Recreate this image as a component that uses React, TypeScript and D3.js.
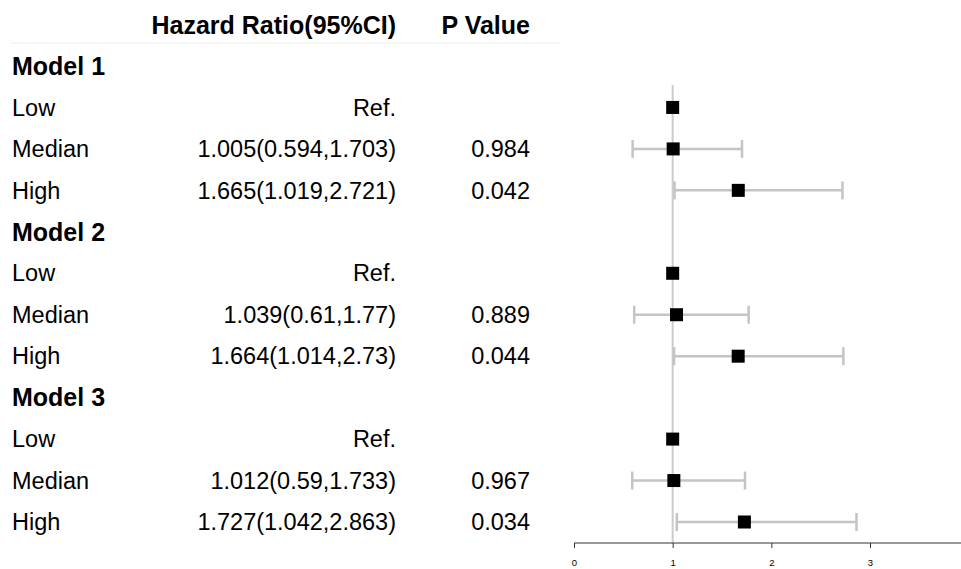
import { useEffect, useRef } from 'react'
import * as d3 from 'd3'

const LABELS = ['Model 1', 'Low', 'Median', 'High', 'Model 2', 'Low', 'Median', 'High', 'Model 3', 'Low', 'Median', 'High']
const IS_HEADER = [true, false, false, false, true, false, false, false, true, false, false, false]
const HR_TEXT = ['', 'Ref.', '1.005(0.594,1.703)', '1.665(1.019,2.721)', '', 'Ref.', '1.039(0.61,1.77)', '1.664(1.014,2.73)', '', 'Ref.', '1.012(0.59,1.733)', '1.727(1.042,2.863)']
const P_TEXT = ['', '', '0.984', '0.042', '', '', '0.889', '0.044', '', '', '0.967', '0.034']
const HR = [null, 1, 1.005, 1.665, null, 1, 1.039, 1.664, null, 1, 1.012, 1.727]
const LOWER = [null, null, 0.594, 1.019, null, null, 0.61, 1.014, null, null, 0.59, 1.042]
const UPPER = [null, null, 1.703, 2.721, null, null, 1.77, 2.73, null, null, 1.733, 2.863]
const TICKS = [0, 1, 2, 3]

export default function App() {
  const svgRef = useRef<SVGSVGElement>(null)

  useEffect(() => {
    if (!svgRef.current) return
    const svg = d3.select(svgRef.current)
    svg.selectAll('*').remove()

    const font = 'Liberation Sans, Arial, sans-serif'
    const x = d3.scaleLinear().domain([0, 3]).range([574, 870])
    const y = d3.scalePoint<number>().domain(d3.range(LABELS.length)).range([66, 522])
    const axisY = 543

    // header
    svg.append('line')
      .attr('x1', 10).attr('x2', 560).attr('y1', 43).attr('y2', 43)
      .attr('stroke', '#f5f5f5').attr('stroke-width', 1.5)
    svg.append('text')
      .attr('x', 396).attr('y', 25).attr('dy', '0.35em')
      .attr('text-anchor', 'end').attr('font-family', font)
      .attr('font-size', 25).attr('font-weight', 700).attr('fill', '#000')
      .text('Hazard Ratio(95%CI)')
    svg.append('text')
      .attr('x', 530).attr('y', 25).attr('dy', '0.35em')
      .attr('text-anchor', 'end').attr('font-family', font)
      .attr('font-size', 25).attr('font-weight', 700).attr('fill', '#000')
      .text('P Value')

    // table text
    LABELS.forEach((lab, i) => {
      svg.append('text')
        .attr('x', 12).attr('y', y(i)!).attr('dy', '0.35em')
        .attr('font-family', font)
        .attr('font-size', IS_HEADER[i] ? 25 : 23.5)
        .attr('font-weight', IS_HEADER[i] ? 700 : 400)
        .attr('fill', '#000')
        .text(lab)
      if (HR_TEXT[i]) {
        svg.append('text')
          .attr('x', 396).attr('y', y(i)!).attr('dy', '0.35em')
          .attr('text-anchor', 'end').attr('font-family', font)
          .attr('font-size', 23.5).attr('fill', '#000')
          .text(HR_TEXT[i])
      }
      if (P_TEXT[i]) {
        svg.append('text')
          .attr('x', 530).attr('y', y(i)!).attr('dy', '0.35em')
          .attr('text-anchor', 'end').attr('font-family', font)
          .attr('font-size', 23.5).attr('fill', '#000')
          .text(P_TEXT[i])
      }
    })

    // reference line at HR = 1
    svg.append('line')
      .attr('x1', x(1)).attr('x2', x(1))
      .attr('y1', 85).attr('y2', axisY)
      .attr('stroke', '#cccccc').attr('stroke-width', 2)

    // CIs
    const ciColor = '#c4c4c4'
    HR.forEach((v, i) => {
      const lo = LOWER[i], hi = UPPER[i]
      if (lo == null || hi == null) return
      const cy = y(i)!
      svg.append('line')
        .attr('x1', x(lo)).attr('x2', x(hi)).attr('y1', cy).attr('y2', cy)
        .attr('stroke', ciColor).attr('stroke-width', 2.5)
      ;[lo, hi].forEach((e) => {
        svg.append('line')
          .attr('x1', x(e)).attr('x2', x(e)).attr('y1', cy - 9).attr('y2', cy + 9)
          .attr('stroke', ciColor).attr('stroke-width', 2.5)
      })
    })

    // points
    const sq = 13
    HR.forEach((v, i) => {
      if (v == null) return
      svg.append('rect')
        .attr('x', x(v) - sq / 2).attr('y', y(i)! - sq / 2)
        .attr('width', sq).attr('height', sq)
        .attr('fill', '#000')
    })

    // axis
    const axis = svg.append('g')
      .attr('transform', `translate(0,${axisY})`)
      .call(d3.axisBottom(x).tickValues(TICKS).tickFormat(d3.format('d')).tickSize(5).tickPadding(11))
    axis.select('.domain').remove()
    axis.append('line')
      .attr('x1', x(0)).attr('x2', 961).attr('y1', 0).attr('y2', 0)
      .attr('stroke', '#333').attr('stroke-width', 1)
    axis.selectAll('.tick line').attr('stroke', '#333')
    axis.selectAll('text')
      .attr('font-size', 9.5).attr('font-family', font).attr('fill', '#000')
  }, [])

  return (
    <svg
      ref={svgRef}
      width={961}
      height={569}
      style={{ position: 'absolute', left: 0, top: 0, background: '#fff' }}
    />
  )
}
